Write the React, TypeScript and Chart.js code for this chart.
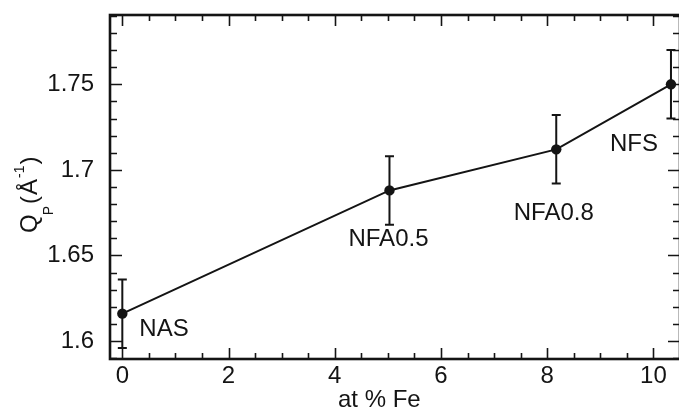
import React, { useEffect, useRef } from "react";
import { Chart, registerables } from "chart.js";

Chart.register(...registerables);

// ---- data ----
const sampleNames = ["NAS", "NFA0.5", "NFA0.8", "NFS"];
const feContent = [0, 5.03, 8.17, 10.33];
const qPeak = [1.616, 1.688, 1.712, 1.75];
const qError = [0.02, 0.02, 0.02, 0.02];

// ---- axes ----
const xRange = [-0.232, 10.5];
const yRange = [1.5895, 1.7905];
const xMajorStep = 2;
const xMinorStep = 0.5;
const yMajorStep = 0.05;
const yMinorStep = 0.01;
const xTitle = "at % Fe";

// label placement relative to each point (pixels)
const labelOffsets = [
  { dx: 17, dy: 22, align: "left" },
  { dx: -1, dy: 56, align: "center" },
  { dx: -2.5, dy: 71, align: "center" },
  { dx: -13, dy: 67, align: "right" },
];

const FONT = "'Liberation Sans', Arial, Helvetica, sans-serif";
const INK = "#141414";

function stepValues(min: number, max: number, step: number) {
  const out: number[] = [];
  const start = Math.ceil(min / step - 1e-9);
  const end = Math.floor(max / step + 1e-9);
  for (let i = start; i <= end; i++) out.push(i * step);
  return out;
}

const decorPlugin = {
  id: "decor",
  beforeDatasetsDraw(chart: any) {
    const { ctx, scales } = chart;
    const xs = scales.x;
    const ys = scales.y;
    ctx.save();
    ctx.strokeStyle = INK;
    ctx.lineWidth = 2;
    for (let i = 0; i < feContent.length; i++) {
      const px = xs.getPixelForValue(feContent[i]);
      const top = ys.getPixelForValue(qPeak[i] + qError[i]);
      const bot = ys.getPixelForValue(qPeak[i] - qError[i]);
      ctx.beginPath();
      ctx.moveTo(px, top);
      ctx.lineTo(px, bot);
      ctx.moveTo(px - 4.5, top);
      ctx.lineTo(px + 4.5, top);
      ctx.moveTo(px - 4.5, bot);
      ctx.lineTo(px + 4.5, bot);
      ctx.stroke();
    }
    ctx.restore();
  },
  afterDraw(chart: any) {
    const { ctx, chartArea, scales } = chart;
    const xs = scales.x;
    const ys = scales.y;
    const { left, right, top, bottom } = chartArea;
    ctx.save();
    ctx.strokeStyle = INK;
    ctx.lineWidth = 1.6;
    // x ticks (bottom & top, inward)
    for (const v of stepValues(xRange[0], xRange[1], xMinorStep)) {
      const major = Math.abs(v / xMajorStep - Math.round(v / xMajorStep)) < 1e-6;
      const len = major ? 11 : 6;
      const px = Math.round(xs.getPixelForValue(v)) + 0.5;
      ctx.beginPath();
      ctx.moveTo(px, bottom);
      ctx.lineTo(px, bottom - len);
      ctx.moveTo(px, top);
      ctx.lineTo(px, top + len);
      ctx.stroke();
    }
    // y ticks (left & right, inward)
    for (const v of stepValues(yRange[0], yRange[1], yMinorStep)) {
      const major = Math.abs(v / yMajorStep - Math.round(v / yMajorStep)) < 1e-6;
      const len = major ? 12 : 7;
      const py = Math.round(ys.getPixelForValue(v)) + 0.5;
      ctx.beginPath();
      ctx.moveTo(left, py);
      ctx.lineTo(left + len, py);
      ctx.moveTo(right, py);
      ctx.lineTo(right - len, py);
      ctx.stroke();
    }
    // frame
    ctx.lineWidth = 2.6;
    ctx.strokeRect(left, top, right - left, bottom - top);

    // point labels
    ctx.fillStyle = INK;
    ctx.font = `24px ${FONT}`;
    ctx.textBaseline = "alphabetic";
    for (let i = 0; i < sampleNames.length; i++) {
      const px = xs.getPixelForValue(feContent[i]);
      const py = ys.getPixelForValue(qPeak[i]);
      const o = labelOffsets[i];
      ctx.textAlign = o.align as CanvasTextAlign;
      ctx.fillText(sampleNames[i], px + o.dx, py + o.dy);
    }

    // x title
    ctx.textAlign = "left";
    ctx.font = `24px ${FONT}`;
    ctx.fillText(xTitle, 338, 407);

    // y title: Q_P (Å^-1), rotated
    ctx.save();
    ctx.translate(37, 233);
    ctx.rotate(-Math.PI / 2);
    ctx.textAlign = "left";
    let cx = 0;
    const big = `24px ${FONT}`;
    const small = `14px ${FONT}`;
    ctx.font = big;
    ctx.fillText("Q", cx, 0);
    cx += ctx.measureText("Q").width;
    ctx.font = small;
    ctx.fillText("P", cx - 1, 16);
    cx += ctx.measureText("P").width + 1;
    ctx.font = big;
    ctx.fillText("(", cx, 0);
    cx += ctx.measureText("(").width + 1;
    ctx.fillText("Å", cx, 0);
    cx += ctx.measureText("Å").width + 1;
    ctx.font = small;
    ctx.fillText("-1", cx, -13);
    cx += ctx.measureText("-1").width + 1;
    ctx.font = big;
    ctx.fillText(")", cx, 0);
    ctx.restore();

    ctx.restore();
  },
};

export default function App() {
  const ref = useRef<HTMLCanvasElement>(null);
  useEffect(() => {
    const chart = new Chart(ref.current as HTMLCanvasElement, {
      type: "line",
      data: {
        datasets: [
          {
            data: feContent.map((x, i) => ({ x, y: qPeak[i] })),
            borderColor: INK,
            backgroundColor: INK,
            borderWidth: 2,
            pointRadius: 5.2,
            pointBackgroundColor: INK,
            pointBorderColor: INK,
            pointBorderWidth: 0,
            tension: 0,
            fill: false,
          },
        ],
      },
      options: {
        responsive: false,
        animation: false,
        events: [],
        layout: { autoPadding: false, padding: { top: 15, right: 1, left: 0, bottom: 0 } },
        plugins: { legend: { display: false }, tooltip: { enabled: false } },
        scales: {
          x: {
            type: "linear",
            min: xRange[0],
            max: xRange[1],
            grid: { display: false, drawTicks: false },
            border: { display: false },
            ticks: {
              stepSize: xMajorStep,
              includeBounds: false,
              padding: 3,
              color: INK,
              font: { family: FONT, size: 24 },
              maxRotation: 0,
              autoSkip: false,
              callback: (v: any) => String(Math.round(Number(v) * 100) / 100),
            },
            afterFit: (s: any) => {
              s.height = 50;
              s.paddingLeft = 0;
              s.paddingRight = 0;
              s.paddingTop = 0;
              s.paddingBottom = 0;
            },
          },
          y: {
            type: "linear",
            min: yRange[0],
            max: yRange[1],
            grid: { display: false, drawTicks: false },
            border: { display: false },
            ticks: {
              stepSize: yMajorStep,
              includeBounds: false,
              padding: 16,
              color: INK,
              font: { family: FONT, size: 24 },
              autoSkip: false,
              callback: (v: any) => String(Math.round(Number(v) * 100) / 100),
            },
            afterFit: (s: any) => {
              s.width = 110;
              s.paddingLeft = 0;
              s.paddingRight = 0;
              s.paddingTop = 0;
              s.paddingBottom = 0;
            },
          },
        },
      },
      plugins: [decorPlugin],
    });
    return () => chart.destroy();
  }, []);
  return (
    <div
      style={{
        position: "absolute",
        left: 0,
        top: 0,
        width: 679,
        height: 409,
        overflow: "hidden",
        background: "#fff",
      }}
    >
      <canvas ref={ref} width={681} height={409} style={{ display: "block" }} />
    </div>
  );
}
